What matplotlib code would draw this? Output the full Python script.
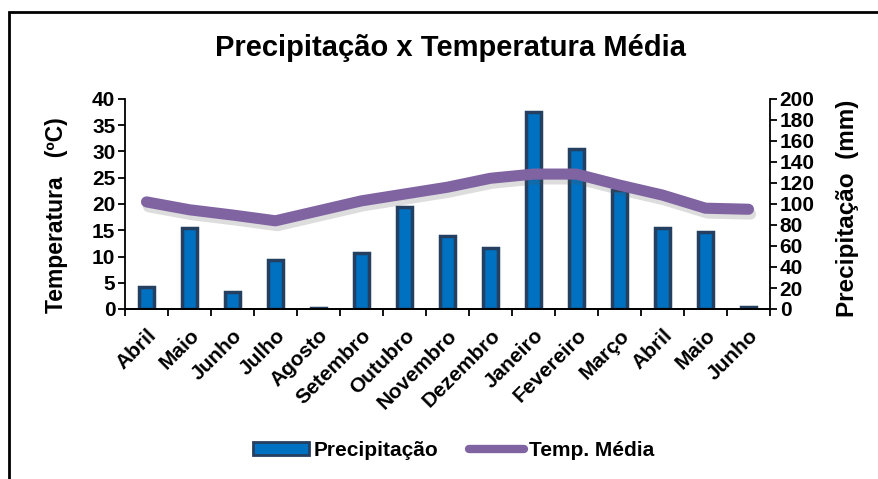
import numpy as np
import matplotlib.pyplot as plt
import matplotlib.patheffects as pe
from matplotlib.patches import Rectangle
from matplotlib.lines import Line2D

plt.rcParams['font.family'] = ['Liberation Sans', 'DejaVu Sans']
plt.rcParams['font.weight'] = 'bold'

# dados
meses = ['Abril', 'Maio', 'Junho', 'Julho', 'Agosto', 'Setembro', 'Outubro',
         'Novembro', 'Dezembro', 'Janeiro', 'Fevereiro', 'Março', 'Abril',
         'Maio', 'Junho']
precipitacao = [21, 77, 16, 47, 1, 53, 97, 70, 58, 188, 152, 113, 77, 73, 1.5]
temp_media = [20.4, 18.9, 17.9, 16.8, 18.7, 20.6, 21.9, 23.2, 24.9, 25.7,
              25.7, 23.6, 21.7, 19.2, 19.0]

bar_cor = '#0070C0'
borda_cor = '#243F60'
linha_cor = '#8064A2'

fig = plt.figure(figsize=(8.79, 4.79), dpi=100)
ax = fig.add_axes([125 / 879, 1 - 309 / 479, 645 / 879, 210 / 479])
ax2 = ax.twinx()

x = np.arange(len(meses))

# barras de precipitação (eixo direito)
ax2.bar(x, precipitacao, width=0.36, color=bar_cor, edgecolor=borda_cor,
        linewidth=2.5)
ax2.set_ylim(0, 200)
ax2.set_yticks(np.arange(0, 201, 20))

# linha de temperatura (eixo esquerdo)
ax.plot(x, temp_media, color=linha_cor, linewidth=8, solid_capstyle='round',
        solid_joinstyle='round',
        path_effects=[pe.SimpleLineShadow(offset=(1.5, -3.5), alpha=0.2,
                                          shadow_color='#555555'),
                      pe.Normal()])
ax.set_ylim(0, 40)
ax.set_yticks(np.arange(0, 41, 5))
ax.set_xlim(-0.5, len(meses) - 0.5)

ax.set_zorder(ax2.get_zorder() + 1)
ax.patch.set_visible(False)

ax.set_xticks(np.arange(-0.5, len(meses), 1))
ax.set_xticklabels([])
ax.set_xticks(x, minor=True)
ax.set_xticklabels(meses, minor=True, rotation=45, ha='right',
                   rotation_mode='anchor', fontsize=15, fontweight='bold')
ax.tick_params(axis='x', which='major', length=5, width=1.3, direction='out')
ax.tick_params(axis='x', which='minor', length=0, pad=12)

for a in (ax, ax2):
    a.spines['top'].set_visible(False)
    for s in ('left', 'right', 'bottom'):
        a.spines[s].set_linewidth(1.3)
    a.tick_params(axis='y', length=5, width=1.3, labelsize=15, pad=2)
    for t in a.get_yticklabels():
        t.set_fontweight('bold')
ax.spines['right'].set_visible(False)
ax2.spines['left'].set_visible(False)

fig.text(57 / 879, 1 - 215 / 479, 'Temperatura   (ºC)', rotation=90,
         ha='center', va='center', fontsize=16.5, fontweight='bold')
fig.text(848 / 879, 1 - 208 / 479, 'Precipitação  (mm)', rotation=90,
         ha='center', va='center', fontsize=17.5, fontweight='bold')

fig.text(451 / 879, 1 - 48 / 479, 'Precipitação x Temperatura Média',
         ha='center', va='center', fontsize=21, fontweight='bold')

# legenda
handles = [Rectangle((0, 0), 1, 1, facecolor=bar_cor, edgecolor=borda_cor,
                     linewidth=2),
           Line2D([0], [0], color=linha_cor, linewidth=6,
                  solid_capstyle='round')]
fig.legend(handles, ['Precipitação', 'Temp. Média'], loc='center',
           bbox_to_anchor=(454 / 879, 1 - 450 / 479), ncol=2, frameon=False,
           prop={'weight': 'bold', 'size': 15},
           handlelength=2.65, handleheight=0.6, columnspacing=1.45,
           handletextpad=0.25)

# moldura do gráfico
fig.add_artist(Rectangle((9 / 879, -0.1), 1.2, 1 - 12 / 479 + 0.1,
                         transform=fig.transFigure, fill=False,
                         edgecolor='black', linewidth=2))

fig.savefig('out.png', dpi=100)
